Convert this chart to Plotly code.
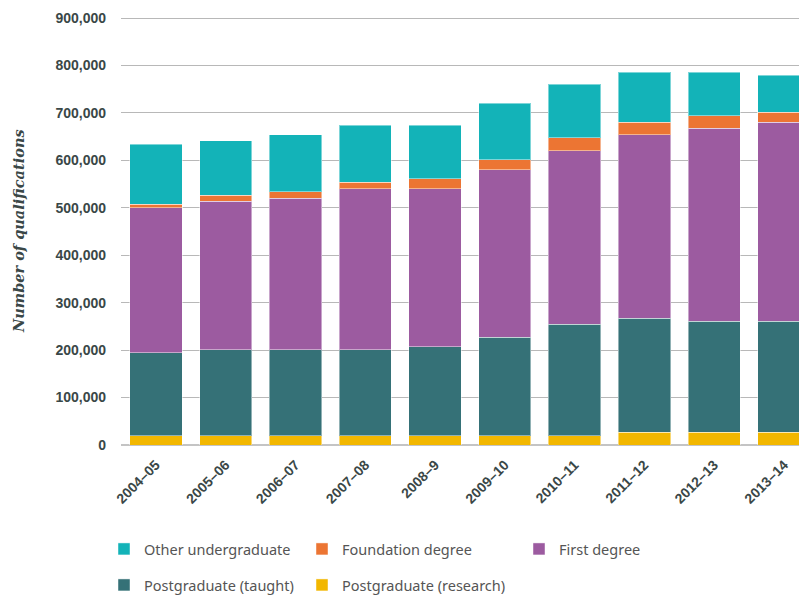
import plotly.graph_objects as go

years = ["2004–05", "2005–06", "2006–07", "2007–08", "2008–9",
         "2009–10", "2010–11", "2011–12", "2012–13", "2013–14"]

pg_research = [19000, 19000, 19000, 19000, 19000, 19000, 19000, 26500, 26500, 26500]
pg_taught = [175300, 181700, 181700, 181700, 188600, 207700, 235600, 240700, 234400, 234400]
first_degree = [305700, 312700, 319700, 339300, 333000, 353500, 365600, 386700, 406500, 419100]
foundation = [7000, 13400, 13600, 13700, 20500, 21100, 27400, 26700, 26500, 21000]
other_ug = [126800, 114000, 120000, 120300, 113000, 118700, 112400, 105300, 92000, 78600]
y_ticks = [0, 100000, 200000, 300000, 400000, 500000, 600000, 700000, 800000, 900000]

series = [
    ("Postgraduate (research)", pg_research, "#f2b700"),
    ("Postgraduate (taught)", pg_taught, "#357177"),
    ("First degree", first_degree, "#9c5ba0"),
    ("Foundation degree", foundation, "#ec7533"),
    ("Other undergraduate", other_ug, "#13b3b8"),
]

# page has an 8px body margin; the figure sits at (8, 8)
OFF = 8
W, H = 807 - OFF, 597 - OFF
PLOT_BOTTOM = 445 - OFF          # y of value 0 (figure px)
TOP_900K = 18 - OFF              # y of value 900,000 (figure px)
T = 5
L, R = 121 - OFF, 0
B = H - PLOT_BOTTOM
pw = W - L - R
ph = H - T - B
y_top = 900000 * ph / (PLOT_BOTTOM - TOP_900K)

def px_x(x_page):
    return (x_page - OFF - L) / pw

def px_y(y_page):
    return (PLOT_BOTTOM - (y_page - OFF)) / ph

# legend placement: (legend id, swatch-left px, row-center px) in page pixels
legend_pos = {
    "Other undergraduate": ("legend", 118, 549),
    "Foundation degree": ("legend2", 316, 549),
    "First degree": ("legend3", 533, 549),
    "Postgraduate (taught)": ("legend4", 118, 585),
    "Postgraduate (research)": ("legend5", 316, 585),
}

fig = go.Figure()
for name, vals, color in series:
    lg = legend_pos[name][0]
    fig.add_trace(go.Bar(
        x=years, y=vals, name=name, legend=lg,
        marker=dict(color=color, line=dict(color="rgba(255,255,255,0.45)", width=1)),
    ))

legend_font = dict(family="Noto Sans, Liberation Sans, sans-serif", size=14.5, color="#555555")
layout_legends = {}
for name, (lg, sx, sy) in legend_pos.items():
    layout_legends[lg] = dict(
        x=px_x(sx - 14), xanchor="left",
        y=px_y(sy), yanchor="middle",
        font=legend_font, bgcolor="rgba(0,0,0,0)", borderwidth=0,
    )

fig.update_layout(
    width=W, height=H,
    margin=dict(l=L, r=R, t=T, b=B, autoexpand=False),
    barmode="stack", bargap=0.25,
    plot_bgcolor="white", paper_bgcolor="white",
    showlegend=True,
    **layout_legends,
)

tick_font = dict(family="Liberation Sans, Arial, sans-serif", size=14, color="#3a4747", weight="bold")

fig.update_yaxes(
    range=[0, y_top], tickvals=y_ticks,
    tickformat=",", showgrid=True, gridcolor="#b8b8b8", gridwidth=1,
    zeroline=True, zerolinecolor="#c4c4c4", zerolinewidth=2,
    showline=False, ticks="", tickfont=tick_font, ticklabelstandoff=14,
)
fig.update_xaxes(
    range=[-0.5, 9.33], tickangle=-45, tickfont=tick_font, showgrid=False,
    showline=False, ticks="", ticklabelstandoff=8,
)

fig.add_annotation(
    text="<b><i>Number of qualifications</i></b>", xref="paper", yref="paper",
    x=px_x(18), y=px_y(231), textangle=-90, showarrow=False,
    xanchor="center", yanchor="middle",
    font=dict(family="DejaVu Serif, serif", size=14.5, color="#3a4747"),
)

fig.write_html("out.html")
